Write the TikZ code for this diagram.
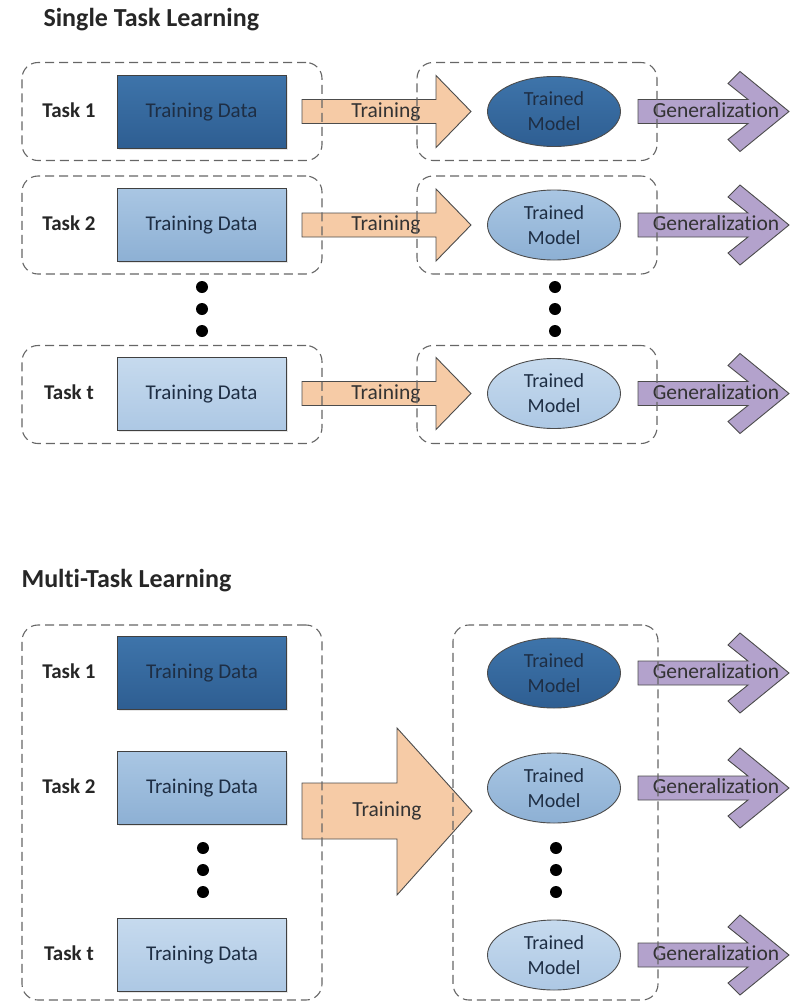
\documentclass[tikz,border=0pt]{standalone}
\usepackage{fontspec}
\setmainfont{Carlito}[Ligatures=NoCommon]
\usetikzlibrary{shapes.geometric,shadows}
\definecolor{darktop}{HTML}{3E74AA}
\definecolor{darkbot}{HTML}{2E5E92}
\definecolor{midtop}{HTML}{A9C6E3}
\definecolor{midbot}{HTML}{8DB0D4}
\definecolor{lighttop}{HTML}{C6DAEE}
\definecolor{lightbot}{HTML}{ADC8E4}
\definecolor{peach}{HTML}{F6CBA6}
\definecolor{lavender}{HTML}{B3A2CC}
\definecolor{navytext}{HTML}{1E2E44}

\begin{document}
\begin{tikzpicture}[x=1pt, y=-1pt,
  title/.style = {font=\fontsize{26}{30}\selectfont\bfseries, anchor=west, text=black!85},
  tasklabel/.style = {font=\fontsize{21}{25}\selectfont\bfseries, text=black!85, text height=14pt, text depth=3pt},
  databox/.style = {draw=black!75, line width=0.9pt, minimum width=169, minimum height=73, font=\fontsize{21}{25}\selectfont, text=navytext, text height=14pt, text depth=3pt, drop shadow={opacity=0.2, shadow xshift=1.5pt, shadow yshift=-1.5pt}},
  model/.style = {ellipse, draw=black!70, line width=0.9pt, minimum width=133, minimum height=70, inner sep=0pt, align=center, font=\fontsize{20}{25}\selectfont, text=navytext},
  taskbox/.style = {draw=black!60, dash pattern=on 9pt off 5pt, line width=1.1pt, rounded corners=16pt},
  trainarrow/.style = {draw=black!70, fill=peach, line width=0.9pt},
  genarrow/.style = {draw=black!70, fill=lavender, line width=0.9pt},
  arrowtext/.style = {font=\fontsize{21.5}{25}\selectfont, text=black!80, text height=14pt, text depth=3pt},
  dotmark/.style = {circle, fill=black, inner sep=0pt, minimum size=12}]
\useasboundingbox (0,0) rectangle (794,1002);

\node[title] (single) at (40,20) {Single Task Learning};
\node[title] (multi) at (18,581) {Multi-Task Learning};

\coordinate (train1) at (302,111.5);
\coordinate (train2) at (302,225);
\coordinate (train3) at (302,393.5);
\coordinate (trainall) at (302,811);
\coordinate (gen1) at (638,111.5);
\coordinate (gen2) at (638,225);
\coordinate (gen3) at (638,393.5);
\coordinate (gen4) at (638,673);
\coordinate (gen5) at (638,788);
\coordinate (gen6) at (638,955);

\draw[trainarrow, shift={(train1)}] (0,-12) -- (134,-12) -- (134,-36) -- (169,0) -- (134,36) -- (134,12) -- (0,12) -- cycle;
\draw[trainarrow, shift={(train2)}] (0,-12) -- (134,-12) -- (134,-36) -- (169,0) -- (134,36) -- (134,12) -- (0,12) -- cycle;
\draw[trainarrow, shift={(train3)}] (0,-12) -- (134,-12) -- (134,-36) -- (169,0) -- (134,36) -- (134,12) -- (0,12) -- cycle;
\draw[trainarrow, shift={(trainall)}] (0,-28) -- (95,-28) -- (95,-83) -- (170,0) -- (95,84) -- (95,28) -- (0,28) -- cycle;

\draw[genarrow, shift={(gen1)}] (0,-12) -- (110,-12) -- (90,-28) -- (102,-40) -- (151,0) -- (102,40) -- (90,28) -- (110,12) -- (0,12) -- cycle;
\draw[genarrow, shift={(gen2)}] (0,-12) -- (110,-12) -- (90,-28) -- (102,-40) -- (151,0) -- (102,40) -- (90,28) -- (110,12) -- (0,12) -- cycle;
\draw[genarrow, shift={(gen3)}] (0,-12) -- (110,-12) -- (90,-28) -- (102,-40) -- (151,0) -- (102,40) -- (90,28) -- (110,12) -- (0,12) -- cycle;
\draw[genarrow, shift={(gen4)}] (0,-12) -- (110,-12) -- (90,-28) -- (102,-40) -- (151,0) -- (102,40) -- (90,28) -- (110,12) -- (0,12) -- cycle;
\draw[genarrow, shift={(gen5)}] (0,-12) -- (110,-12) -- (90,-28) -- (102,-40) -- (151,0) -- (102,40) -- (90,28) -- (110,12) -- (0,12) -- cycle;
\draw[genarrow, shift={(gen6)}] (0,-12) -- (110,-12) -- (90,-28) -- (102,-40) -- (151,0) -- (102,40) -- (90,28) -- (110,12) -- (0,12) -- cycle;

\node[arrowtext] (traintext1) at (386,111.5) {Training};
\node[arrowtext] (traintext2) at (386,225) {Training};
\node[arrowtext] (traintext3) at (386,393.5) {Training};
\node[arrowtext] (traintext4) at (387,811) {Training};
\node[arrowtext] (gentext1) at (716,111.5) {Generalization};
\node[arrowtext] (gentext2) at (716,225) {Generalization};
\node[arrowtext] (gentext3) at (716,393.5) {Generalization};
\node[arrowtext] (gentext4) at (716,673) {Generalization};
\node[arrowtext] (gentext5) at (716,788) {Generalization};
\node[arrowtext] (gentext6) at (716,955) {Generalization};

\node[tasklabel] (task1) at (69,111.5) {Task 1};
\node[tasklabel] (task2) at (69,225) {Task 2};
\node[tasklabel] (taskt) at (69,393.5) {Task t};
\node[databox, top color=darktop, bottom color=darkbot] (data1) at (201.5,111.5) {Training Data};
\node[databox, top color=midtop, bottom color=midbot] (data2) at (201.5,225) {Training Data};
\node[databox, top color=lighttop, bottom color=lightbot] (datat) at (201.5,393.5) {Training Data};
\node[model, top color=darktop, bottom color=darkbot] (model1) at (554,111.5) {Trained\\Model};
\node[model, top color=midtop, bottom color=midbot] (model2) at (554,225) {Trained\\Model};
\node[model, top color=lighttop, bottom color=lightbot] (modelt) at (554,393.5) {Trained\\Model};

\node[dotmark] (dota1) at (202,287) {};
\node[dotmark] (dota2) at (202,309) {};
\node[dotmark] (dota3) at (202,331) {};
\node[dotmark] (dotb1) at (555,287) {};
\node[dotmark] (dotb2) at (555,309) {};
\node[dotmark] (dotb3) at (555,331) {};

\node[tasklabel] (mtask1) at (69,673) {Task 1};
\node[tasklabel] (mtask2) at (69,788) {Task 2};
\node[tasklabel] (mtaskt) at (69,955) {Task t};
\node[databox, top color=darktop, bottom color=darkbot] (mdata1) at (202,673) {Training Data};
\node[databox, top color=midtop, bottom color=midbot] (mdata2) at (202,788) {Training Data};
\node[databox, top color=lighttop, bottom color=lightbot] (mdatat) at (202,955) {Training Data};
\node[model, top color=darktop, bottom color=darkbot] (mmodel1) at (554,673) {Trained\\Model};
\node[model, top color=midtop, bottom color=midbot] (mmodel2) at (554,788) {Trained\\Model};
\node[model, top color=lighttop, bottom color=lightbot] (mmodelt) at (554,955) {Trained\\Model};

\node[dotmark] (dotc1) at (203,848) {};
\node[dotmark] (dotc2) at (203,870) {};
\node[dotmark] (dotc3) at (203,892) {};
\node[dotmark] (dotd1) at (556,848) {};
\node[dotmark] (dotd2) at (556,870) {};
\node[dotmark] (dotd3) at (556,892) {};

\node[taskbox, minimum width=300, minimum height=98] (box1) at (172,111.5) {};
\node[taskbox, minimum width=300, minimum height=98] (box2) at (172,225) {};
\node[taskbox, minimum width=300, minimum height=98] (boxt) at (172,394.5) {};
\node[taskbox, minimum width=240, minimum height=98] (mbox1) at (537,111.5) {};
\node[taskbox, minimum width=240, minimum height=98] (mbox2) at (537,225) {};
\node[taskbox, minimum width=240, minimum height=98] (mboxt) at (537,394.5) {};
\node[taskbox, minimum width=300, minimum height=375] (alldata) at (172,812.5) {};
\node[taskbox, minimum width=205, minimum height=375] (allmodels) at (555.5,812.5) {};
\end{tikzpicture}
\end{document}
